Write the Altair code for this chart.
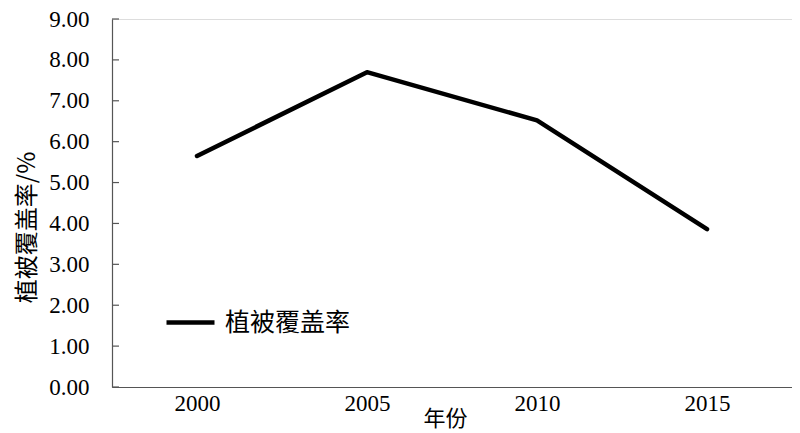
import altair as alt
import pandas as pd

years = ["2000", "2005", "2010", "2015"]
coverage = [5.65, 7.70, 6.52, 3.86]
series_name = "植被覆盖率"
y_ticks = [0, 1, 2, 3, 4, 5, 6, 7, 8, 9]

NUM_FONT = "Times New Roman, Tinos, Nimbus Roman, DejaVu Serif"
CJK_FONT = "Noto Sans CJK SC"

df = pd.DataFrame({"年份": years, "value": coverage, "series": [series_name] * len(years)})
tick_df = pd.DataFrame({"t": y_ticks})

y_scale = alt.Scale(domain=[0, 9], nice=False, zero=True)

line = alt.Chart(df).mark_line(strokeWidth=4.5, strokeCap="round", strokeJoin="round").encode(
    x=alt.X("年份:N", sort=years,
            scale=alt.Scale(type="point", padding=0.5),
            axis=alt.Axis(title="年份", labelAngle=0, ticks=False, domainColor="#555555",
                          domainWidth=1.2, labelFont=NUM_FONT, labelFontSize=23, labelColor="#000000",
                          labelPadding=5, titleFont=CJK_FONT, titleFontSize=22, titleFontWeight="normal",
                          titleColor="#000000", titleX=333, titleY=31, titleBaseline="middle",
                          titleAlign="center")),
    y=alt.Y("value:Q", scale=y_scale,
            axis=alt.Axis(title="植被覆盖率/%", values=y_ticks, format=".2f", ticks=False,
                          domainColor="#555555", domainWidth=1.2, grid=False,
                          labelFont=NUM_FONT, labelFontSize=23, labelColor="#000000", labelPadding=23,
                          titleFont=CJK_FONT, titleFontSize=24, titleFontWeight="normal",
                          titleColor="#000000", titleX=-85, titleY=208, titleAngle=270,
                          titleAlign="center", titleBaseline="middle")),
    color=alt.Color("series:N", scale=alt.Scale(range=["#000000"]),
                    legend=alt.Legend(title=None, orient="none", legendX=52, legendY=277,
                                      symbolType="stroke", symbolSize=2304, symbolStrokeWidth=4.5,
                                      labelFont=CJK_FONT, labelFontSize=25, labelColor="#000000",
                                      labelOffset=8, padding=0, symbolOffset=0)),
)

ticks = alt.Chart(tick_df).mark_rule(color="#555555", strokeWidth=1.2).encode(
    y=alt.Y("t:Q", scale=y_scale),
    x=alt.value(0),
    x2=alt.value(7),
)

chart = alt.layer(ticks, line).properties(
    width=680, height=368,
    autosize=alt.AutoSizeParams(type="none"),
    padding={"left": 104, "top": 11, "right": 0, "bottom": 43},
).configure_view(stroke=None).configure(background="#ffffff", font=NUM_FONT)

chart.save("out.html", embed_options={"renderer": "svg", "actions": False})
